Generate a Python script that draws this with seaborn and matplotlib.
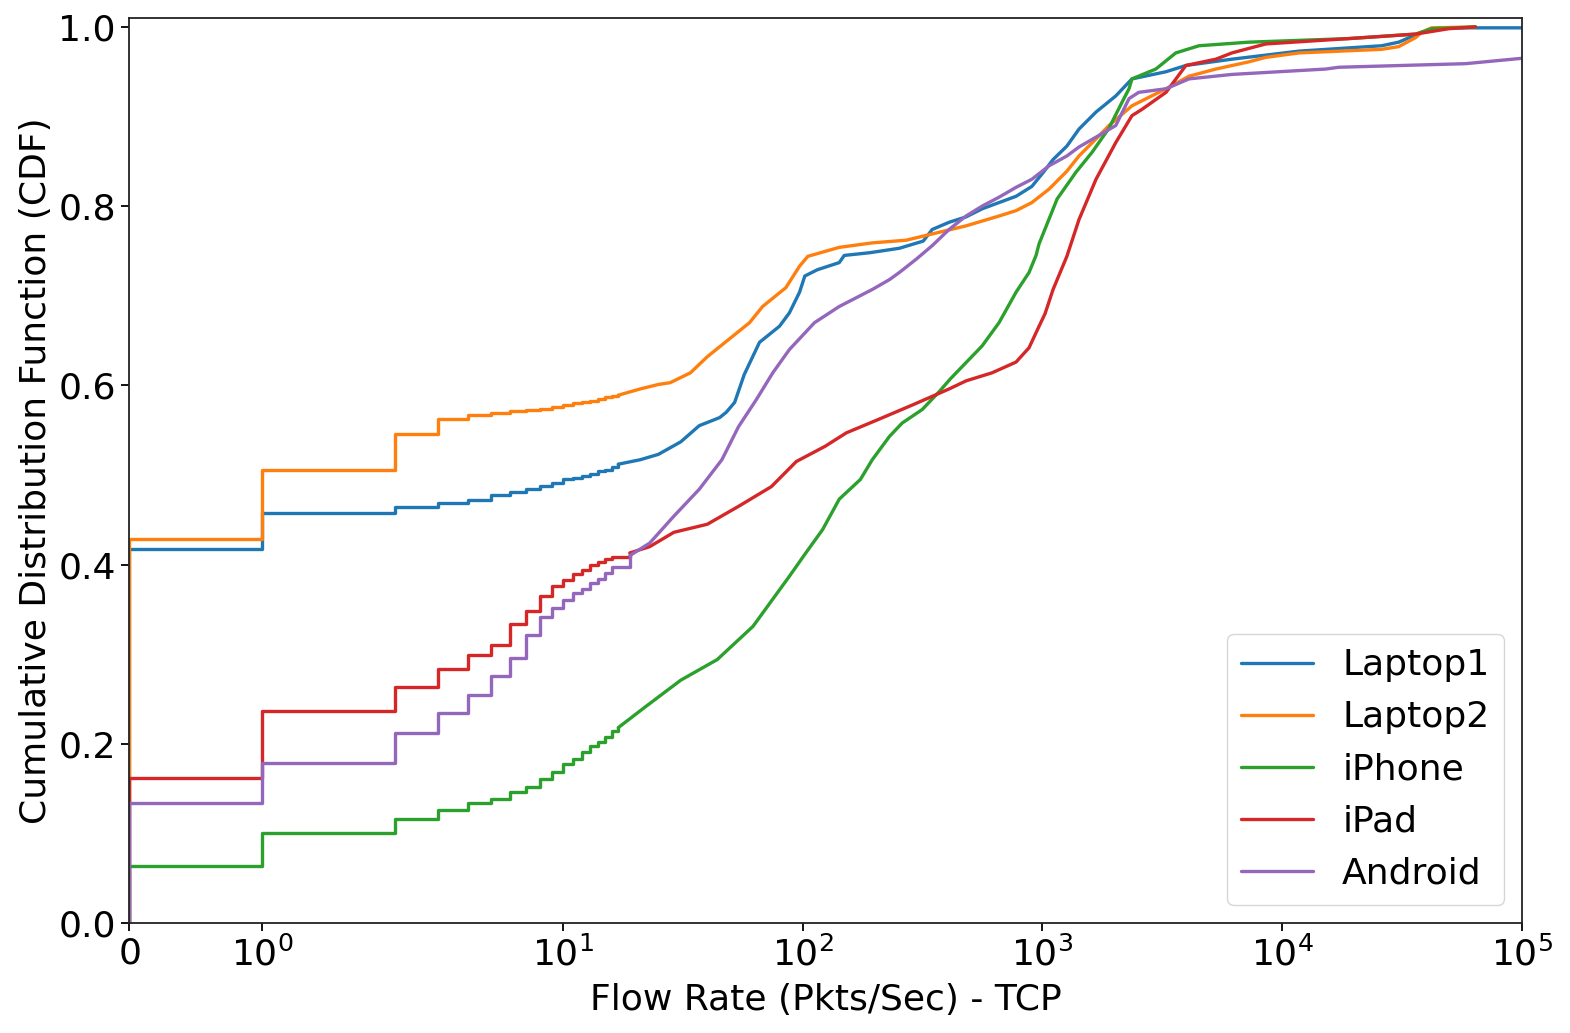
import numpy as np
import pandas as pd
import seaborn as sns
import matplotlib
matplotlib.use("Agg")
import matplotlib.pyplot as plt
from matplotlib.ticker import NullLocator

# CDF der Flussraten (Pkts/Sec) je Geraet

devices = ["Laptop1", "Laptop2", "iPhone", "iPad", "Android"]
colors = ["#1f77b4", "#ff7f0e", "#2ca02c", "#d62728", "#9467bd"]

# ganzzahlige Raten 0..16 -> Treppenstufen
step_x = list(range(17))

laptop1_step = [0.417, 0.457, 0.464, 0.469, 0.472, 0.478, 0.481, 0.484, 0.488,
                0.491, 0.495, 0.497, 0.499, 0.501, 0.504, 0.506, 0.509]
laptop2_step = [0.428, 0.505, 0.546, 0.563, 0.567, 0.569, 0.571, 0.572, 0.574,
                0.576, 0.578, 0.580, 0.581, 0.583, 0.585, 0.587, 0.588]
iphone_step = [0.064, 0.100, 0.116, 0.126, 0.134, 0.138, 0.146, 0.152, 0.161,
               0.169, 0.177, 0.183, 0.191, 0.197, 0.202, 0.208, 0.214]
ipad_step = [0.162, 0.237, 0.263, 0.283, 0.299, 0.310, 0.334, 0.348, 0.365,
             0.376, 0.383, 0.390, 0.394, 0.399, 0.403, 0.406, 0.409]
android_step = [0.134, 0.178, 0.212, 0.234, 0.254, 0.276, 0.296, 0.321, 0.341,
                0.351, 0.360, 0.368, 0.373, 0.379, 0.384, 0.391, 0.397]

# hoehere Raten -> fast glatter Verlauf
laptop1_x = [17, 21, 25, 31, 37, 45, 48, 52, 57, 66, 80, 88, 97, 102, 115, 142, 149,
             190, 253, 318, 347, 408, 480, 560, 659, 776, 903, 1010, 1107, 1264,
             1420, 1672, 2022, 2362, 3275, 3965, 6168, 11740, 26000, 30600, 38170,
             49440, 100000]
laptop1_cdf = [0.512, 0.517, 0.523, 0.537, 0.555, 0.564, 0.570, 0.581, 0.612, 0.648,
               0.666, 0.681, 0.704, 0.722, 0.729, 0.737, 0.745, 0.748, 0.753, 0.761,
               0.774, 0.782, 0.788, 0.797, 0.804, 0.811, 0.822, 0.838, 0.852, 0.867,
               0.886, 0.905, 0.923, 0.942, 0.950, 0.957, 0.964, 0.973, 0.979, 0.983,
               0.994, 0.999, 0.999]

laptop2_x = [17, 21, 25, 28, 34, 40, 49, 60, 68, 85, 97, 105, 142, 195, 270, 347,
             480, 659, 776, 903, 1065, 1264, 1420, 1672, 1894, 2362, 3275, 4083,
             5287, 7244, 8530, 11740, 26000, 30600, 35970, 38170, 41980, 63970]
laptop2_cdf = [0.589, 0.596, 0.601, 0.603, 0.614, 0.632, 0.651, 0.670, 0.688, 0.709,
               0.733, 0.744, 0.754, 0.759, 0.762, 0.769, 0.778, 0.789, 0.795, 0.804,
               0.819, 0.839, 0.856, 0.875, 0.890, 0.912, 0.931, 0.945, 0.953, 0.961,
               0.966, 0.971, 0.975, 0.978, 0.988, 0.994, 0.999, 1.0]

iphone_x = [17, 22, 31, 44, 62, 88, 103, 121, 142, 174, 195, 230, 260, 315, 371, 412,
            560, 659, 776, 879, 940, 968, 1151, 1380, 1609, 1894, 2147, 2296, 2362,
            2970, 3597, 4494, 7244, 18950, 35970, 41980, 63970]
iphone_cdf = [0.218, 0.241, 0.271, 0.294, 0.331, 0.387, 0.413, 0.439, 0.473, 0.495,
              0.517, 0.543, 0.558, 0.573, 0.593, 0.607, 0.644, 0.670, 0.704, 0.726,
              0.745, 0.758, 0.808, 0.838, 0.860, 0.887, 0.916, 0.931, 0.942, 0.953,
              0.971, 0.979, 0.983, 0.987, 0.992, 0.998, 1.0]

ipad_x = [19, 23, 29, 40, 54, 74, 94, 124, 152, 207, 292, 408, 480, 616, 776, 879,
          968, 1025, 1107, 1264, 1420, 1672, 2022, 2231, 2362, 2600, 3275, 3965,
          5287, 6168, 8530, 18950, 35970, 49440, 63970]
ipad_cdf = [0.413, 0.420, 0.436, 0.445, 0.465, 0.487, 0.515, 0.532, 0.547, 0.562,
            0.579, 0.596, 0.605, 0.614, 0.626, 0.642, 0.666, 0.680, 0.707, 0.744,
            0.785, 0.830, 0.871, 0.890, 0.901, 0.908, 0.927, 0.957, 0.964, 0.971,
            0.981, 0.987, 0.992, 0.998, 1.0]

android_x = [19, 23, 29, 37, 46, 54, 64, 75, 88, 112, 142, 195, 230, 253, 298, 347,
             408, 480, 560, 659, 776, 903, 1065, 1264, 1420, 1672, 2022, 2296, 2520,
             3275, 4083, 6168, 15180, 17220, 58180, 100000]
android_cdf = [0.410, 0.424, 0.454, 0.484, 0.517, 0.554, 0.584, 0.614, 0.640, 0.670,
               0.688, 0.707, 0.718, 0.726, 0.741, 0.756, 0.774, 0.789, 0.800, 0.810,
               0.821, 0.830, 0.845, 0.856, 0.866, 0.877, 0.890, 0.920, 0.927, 0.931,
               0.942, 0.947, 0.953, 0.955, 0.959, 0.965]

steps = [laptop1_step, laptop2_step, iphone_step, ipad_step, android_step]
tails_x = [laptop1_x, laptop2_x, iphone_x, ipad_x, android_x]
tails_y = [laptop1_cdf, laptop2_cdf, iphone_cdf, ipad_cdf, android_cdf]

sns.set_style("ticks")
plt.rcParams["font.family"] = ["DejaVu Sans"]
plt.rcParams["font.size"] = 26
plt.rcParams["text.color"] = "black"
plt.rcParams["axes.labelcolor"] = "black"
plt.rcParams["axes.linewidth"] = 1.3
plt.rcParams["axes.edgecolor"] = "#222222"
plt.rcParams["xtick.major.size"] = 6
plt.rcParams["ytick.major.size"] = 6
plt.rcParams["xtick.major.width"] = 1.3
plt.rcParams["ytick.major.width"] = 1.3
plt.rcParams["xtick.color"] = "black"
plt.rcParams["ytick.color"] = "black"

fig, ax = plt.subplots(figsize=(15.7, 10.33), dpi=100)
fig.subplots_adjust(left=0.0822, right=0.9694, top=0.9826, bottom=0.1065)

for name, col, st, tx, ty in zip(devices, colors, steps, tails_x, tails_y):
    # Treppe: Start bei (0, 0), dann Stufen, bis zum ersten Punkt des Verlaufs
    sx = [0] + step_x + [tx[0]]
    sy = [0] + st + [ty[0]]
    sns.lineplot(x=sx, y=sy, drawstyle="steps-post", color=col, lw=2.4,
                 estimator=None, sort=False, ax=ax, label=name)
    sns.lineplot(x=tx, y=ty, color=col, lw=2.4, estimator=None, sort=False, ax=ax)

ax.set_xscale("symlog", linthresh=2, linscale=1)
ax.set_xlim(0, 1e5)
ax.set_ylim(0, 1.01)
ax.set_xticks([0, 1, 10, 100, 1000, 10000, 100000])
ax.xaxis.set_minor_locator(NullLocator())
ax.set_yticks([0.0, 0.2, 0.4, 0.6, 0.8, 1.0])
ax.tick_params(labelsize=26)

ax.set_xlabel("Flow Rate (Pkts/Sec) - TCP", fontsize=26, labelpad=8)
ax.set_ylabel("Cumulative Distribution Function (CDF)", fontsize=26)

ax.legend(loc="lower right", fontsize=26)

plt.savefig("out.png", dpi=100)
